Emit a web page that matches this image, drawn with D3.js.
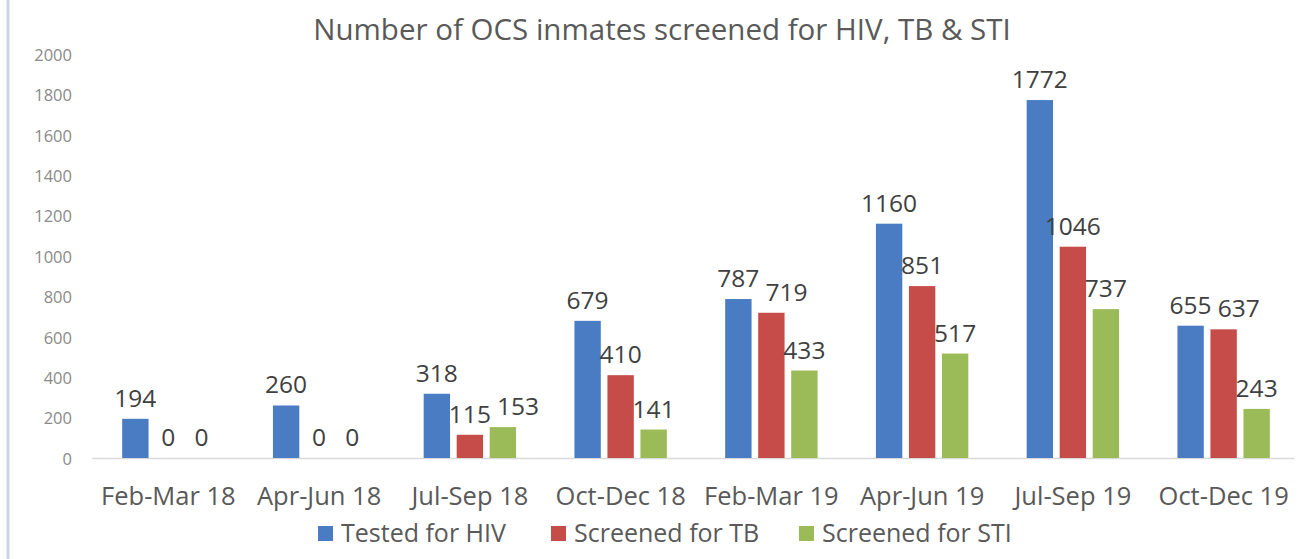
<!DOCTYPE html>
<html>
<head>
<meta charset="utf-8">
<script src="https://cdn.jsdelivr.net/npm/d3@7"></script>
<style>
  html, body { margin: 0; padding: 0; background: #fff; }
  svg { display: block; font-family: "Open Sans", sans-serif; }
</style>
</head>
<body>
<svg id="chart" width="1307" height="559"></svg>
<script>
const categories = ["Feb-Mar 18", "Apr-Jun 18", "Jul-Sep 18", "Oct-Dec 18", "Feb-Mar 19", "Apr-Jun 19", "Jul-Sep 19", "Oct-Dec 19"];
const seriesNames = ["Tested for HIV", "Screened for TB", "Screened for STI"];
const testedHIV = [194, 260, 318, 679, 787, 1160, 1772, 655];
const screenedTB = [0, 0, 115, 410, 719, 851, 1046, 637];
const screenedSTI = [0, 0, 153, 141, 433, 517, 737, 243];
const yTicks = [0, 200, 400, 600, 800, 1000, 1200, 1400, 1600, 1800, 2000];
const title = "Number of OCS inmates screened for HIV, TB & STI";
const colors = ["#4a7cc4", "#c64c4a", "#9bbb59"];

const series = [testedHIV, screenedTB, screenedSTI];
const svg = d3.select("#chart");

const x = d3.scaleBand().domain(categories).range([93, 1299]).padding(0);
const y = d3.scaleLinear().domain([0, 2000]).range([458, 54]);
const bw = x.bandwidth();
const step = bw * 0.219;
const barW = bw * 0.175;

// left frame line
svg.append("line").attr("x1", 8).attr("x2", 8).attr("y1", 0).attr("y2", 559)
  .attr("stroke", "#c9d5ea").attr("stroke-width", 3);

// title
svg.append("text").attr("x", 662).attr("y", 40).attr("text-anchor", "middle")
  .attr("font-size", 29.5).attr("fill", "#595959").text(title);

// y axis (labels only)
const yAxis = d3.axisLeft(y).tickValues(yTicks).tickFormat(d3.format("d")).tickSize(0).tickPadding(0);
const yg = svg.append("g").attr("transform", "translate(72,1)").call(yAxis);
yg.select(".domain").remove();
yg.selectAll("text").attr("font-size", 16.5).attr("fill", "#8a8a8a")
  .attr("font-family", "Open Sans, sans-serif");

// baseline
svg.append("line").attr("x1", 92).attr("x2", 1294).attr("y1", y(0) + 0.5).attr("y2", y(0) + 0.5)
  .attr("stroke", "#d9d9d9").attr("stroke-width", 1.5);

// x axis labels
const xAxis = d3.axisBottom(x).tickSize(0).tickPadding(0);
const xg = svg.append("g").attr("transform", "translate(0,487)").call(xAxis);
xg.select(".domain").remove();
xg.selectAll("text").attr("font-size", 25.5).attr("fill", "#595959")
  .attr("font-family", "Open Sans, sans-serif").attr("dy", "0.71em");

// bars
const labelNodes = [];
series.forEach((vals, si) => {
  const g = svg.append("g");
  const cx = c => x(c) + bw / 2 + (si - 1) * step;
  const data = categories.map((c, i) => ({ c, i, v: vals[i] }));
  g.selectAll("rect").data(data).join("rect")
    .attr("x", d => cx(d.c) - barW / 2)
    .attr("width", barW)
    .attr("y", d => y(d.v))
    .attr("height", d => y(0) - y(d.v))
    .attr("fill", colors[si]);
  g.selectAll("text").data(data).join("text")
    .attr("x", d => cx(d.c))
    .attr("y", d => y(d.v) - 12)
    .attr("text-anchor", "middle")
    .attr("font-size", 24.5)
    .attr("fill", "#404040")
    .text(d => d.v)
    .each(function(d) { labelNodes.push({ node: this, i: d.i, si }); });
});

// nudge data labels right when they collide with the label to their left in the same group
categories.forEach((c, ci) => {
  const group = labelNodes.filter(l => l.i === ci).sort((a, b) => a.si - b.si);
  for (let k = 1; k < group.length; k++) {
    const cur = group[k].node;
    for (let j = 0; j < k; j++) {
      const prev = group[j].node.getBBox();
      const bb = cur.getBBox();
      const vOverlap = bb.y < prev.y + prev.height && prev.y < bb.y + bb.height;
      if (vOverlap && bb.x < prev.x + prev.width + 6) {
        const shift = prev.x + prev.width + 6 - bb.x;
        cur.setAttribute("x", +cur.getAttribute("x") + shift);
      }
    }
  }
});

// legend
const legendX = [318, 551, 799];
const lg = svg.append("g");
seriesNames.forEach((n, i) => {
  lg.append("rect").attr("x", legendX[i]).attr("y", 526).attr("width", 15).attr("height", 15)
    .attr("fill", colors[i]);
  lg.append("text").attr("x", legendX[i] + 23).attr("y", 542)
    .attr("font-size", 25).attr("fill", "#595959").text(n);
});
</script>
</body>
</html>
